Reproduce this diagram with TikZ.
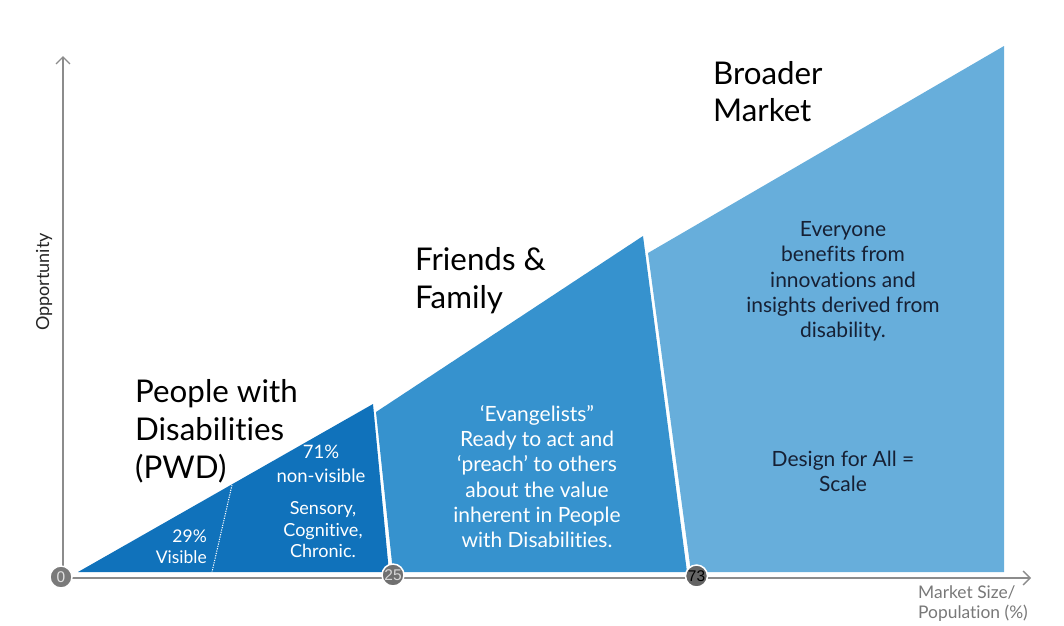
\documentclass[tikz,border=0pt]{standalone}
\usepackage{fontspec}
\setmainfont{Lato}[RawFeature=-liga]
\newfontfamily\digitfont{Liberation Sans}
\usetikzlibrary{arrows.meta}
\definecolor{bone}{RGB}{16,114,187}
\definecolor{btwo}{RGB}{54,146,206}
\definecolor{bthree}{RGB}{103,174,219}
\definecolor{axisgray}{RGB}{140,140,140}
\definecolor{labelgray}{RGB}{120,120,120}
\definecolor{navytext}{RGB}{22,32,52}
\definecolor{dotA}{RGB}{122,122,122}
\definecolor{dotAtext}{RGB}{225,225,225}
\definecolor{dotB}{RGB}{112,112,112}
\definecolor{dotBtext}{RGB}{215,215,215}
\definecolor{dotC}{RGB}{100,100,100}
\tikzset{
  axisline/.style={draw=axisgray, line width=1.5pt, -{Straight Barb[length=7pt,width=14pt,line width=1.3pt]}},
  tickdot/.style={circle, fill=#1, draw=white, line width=1.5pt, inner sep=0pt, minimum size=22pt, font=\digitfont\fontsize{15.5}{15.5}\selectfont},
  title/.style={inner sep=0pt, align=left, anchor=west, text=black, font=\fontsize{31.3}{37.8}\selectfont},
  bodywhite/.style={inner sep=0pt, align=center, text=white, font=\fontsize{21}{25.3}\selectfont},
  bodynavy/.style={inner sep=0pt, align=center, text=navytext, font=\fontsize{21}{25.3}\selectfont},
  smallwhite/.style={inner sep=0pt, text=white, font=\fontsize{18}{21.5}\selectfont},
}
\begin{document}
\begin{tikzpicture}[x=1pt,y=-1pt]
\useasboundingbox (0,0) rectangle (1064,625);
% segments
\fill[bone] (78,572) -- (373,404) -- (389,572) -- cycle;
\fill[btwo] (376,412) -- (643,236) -- (687,572) -- (393,572) -- cycle;
\fill[bthree] (648,253) -- (1004,46) -- (1004,572) -- (691,572) -- cycle;
\coordinate (dtop) at (232,485);
\coordinate (dbot) at (212,572);
\draw[white, line width=1pt, dash pattern=on 1.2pt off 1.2pt] (dtop) -- (dbot);
% axes
\coordinate (origin) at (63,578);
\coordinate (ytop) at (63,56);
\coordinate (xend) at (1031,578);
\draw[axisline] (origin) -- (ytop);
\draw[axisline] (origin) -- (xend);
% ticks
\node[tickdot=dotA, text=dotAtext] (t0) at (61,577) {0};
\node[tickdot=dotB, text=dotBtext] (t25) at (393,575) {25};
\node[tickdot=dotC, text=black] (t73) at (696.5,576) {73};
% titles
\node[title] (pwd) at (135,431) {People with\\Disabilities\\(PWD)};
\node[title] (ff) at (415,281) {Friends \&\\Family};
\node[title] (bm) at (713,91.5) {Broader\\Market};
% segment texts
\node[smallwhite, align=center, font=\fontsize{18.5}{24}\selectfont] (nv) at (321,464) {71\%\\non-visible};
\node[smallwhite, align=center] (scc) at (323,530) {Sensory,\\Cognitive,\\Chronic.};
\node[smallwhite, align=right, anchor=east, font=\fontsize{17.5}{21.5}\selectfont] (vis) at (207,546.5) {29\%\\Visible};
\node[bodywhite] (ev) at (537,476.5) {‘Evangelists”\\Ready to act and\\‘preach’ to others\\about the value\\inherent in People\\with Disabilities.};
\node[bodynavy] (every) at (843,281.5) {Everyone\\benefits from\\innovations and\\insights derived from\\disability.};
\node[bodynavy] (dfa) at (843,471.5) {Design for All =\\Scale};
% axis labels
\node[inner sep=0pt, anchor=west, align=left, text=labelgray, font=\fontsize{17.4}{20}\selectfont] (xl) at (918,604) {Market Size/\\Population (\%)};
\node[inner sep=0pt, rotate=90, text=black!85, font=\fontsize{18}{18}\selectfont] (yl) at (44,282) {Opportunity};
\end{tikzpicture}
\end{document}
